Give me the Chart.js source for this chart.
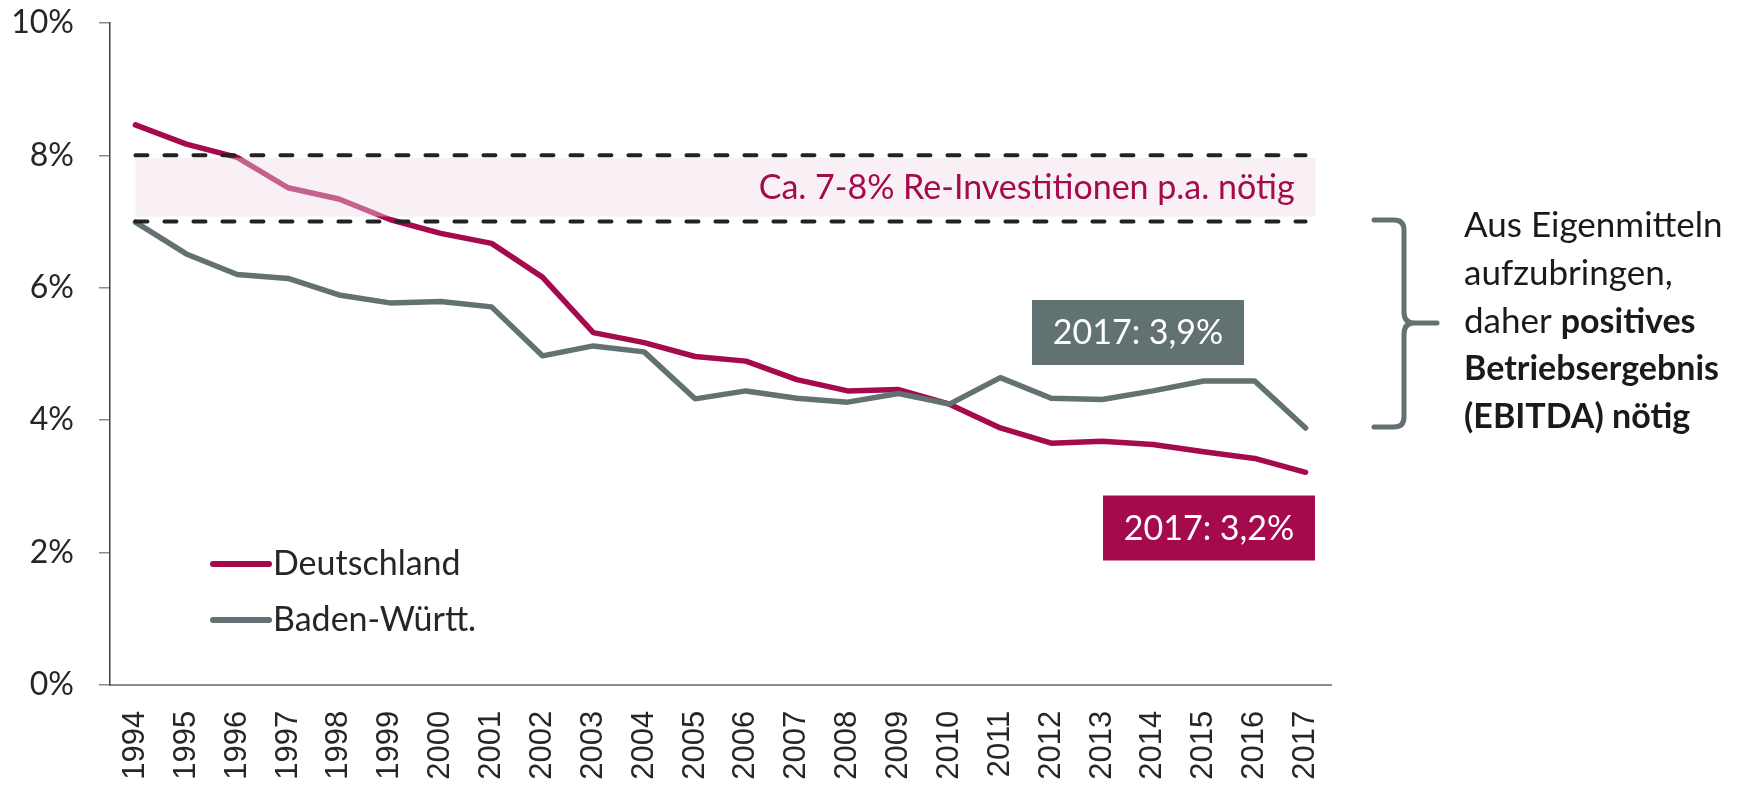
<!DOCTYPE html>
<html>
<head>
<meta charset="utf-8">
<script src="https://cdn.jsdelivr.net/npm/chart.js@4.4.1/dist/chart.umd.min.js"></script>
<style>
  body { margin: 0; background: #fff; }
  #wrap { width: 1740px; height: 786px; }
</style>
</head>
<body>
<div id="wrap"><canvas id="invChart" width="1740" height="786"></canvas></div>
<script>
const years = ['1994', '1995', '1996', '1997', '1998', '1999', '2000', '2001', '2002', '2003', '2004', '2005',
               '2006', '2007', '2008', '2009', '2010', '2011', '2012', '2013', '2014', '2015', '2016', '2017'];
const deutschland = [8.46, 8.17, 7.97, 7.51, 7.34, 7.03, 6.82, 6.67, 6.16, 5.32, 5.17, 4.96,
                     4.89, 4.61, 4.44, 4.46, 4.24, 3.88, 3.65, 3.68, 3.63, 3.52, 3.42, 3.21];
const badenWuertt = [6.99, 6.51, 6.20, 6.14, 5.89, 5.77, 5.79, 5.71, 4.97, 5.12, 5.03, 4.32,
                     4.44, 4.33, 4.27, 4.40, 4.24, 4.64, 4.33, 4.31, 4.44, 4.59, 4.59, 3.88];
const bandTop = 8;
const bandBottom = 7;
const yTicks = [0, 2, 4, 6, 8, 10];

const RED = '#a50a4c';
const GREY = '#627172';
const FONT = 'Lato, "Open Sans", sans-serif';

// band between 7% and 8%, drawn over the series but under the dashed lines
let bandDone = false;
const bandPlugin = {
    id: 'band',
    beforeDatasetsDraw() { bandDone = false; },
    beforeDatasetDraw(chart, args) {
        if (bandDone || !chart.data.datasets[args.index].isRef) return;
        bandDone = true;
        const x = chart.scales.x, y = chart.scales.y, c = chart.ctx;
        const x0 = x.getPixelForValue(0);
        const x1 = x.getPixelForValue(years.length - 1) + 10;
        const y0 = y.getPixelForValue(bandTop) + 2.5;
        const y1 = y.getPixelForValue(bandBottom) - 5;
        c.save();
        c.fillStyle = 'rgba(238, 220, 228, 0.42)';
        c.fillRect(x0, y0, x1 - x0, y1 - y0);
        c.restore();
    }
};

const notesPlugin = {
    id: 'notes',
    afterDraw(chart) {
        const c = chart.ctx, x = chart.scales.x, y = chart.scales.y, area = chart.chartArea;
        c.save();

        // band label
        c.font = '34px ' + FONT;
        c.fillStyle = RED;
        c.textAlign = 'right';
        c.textBaseline = 'middle';
        c.fillText('Ca. 7-8% Re-Investitionen p.a. nötig', x.getPixelForValue(years.length - 1) - 11,
                   (y.getPixelForValue(bandTop) + y.getPixelForValue(bandBottom)) / 2);

        // end value boxes
        const last = years.length - 1;
        const fmt = v => '2017: ' + v.toFixed(1).replace('.', ',') + '%';
        const boxes = [
            { text: fmt(badenWuertt[last]), color: GREY, cx: 1138, cy: 332.5 },
            { text: fmt(deutschland[last]), color: RED, cx: 1209, cy: 528 }
        ];
        boxes.forEach(b => {
            c.fillStyle = b.color;
            c.fillRect(b.cx - 106, b.cy - 32.5, 212, 65);
            c.fillStyle = '#fff';
            c.textAlign = 'center';
            c.font = '34px ' + FONT;
            c.fillText(b.text, b.cx, b.cy + 1);
        });

        // legend inside plot
        const lx = area.left + 103;
        [[0, 564], [1, 620]].forEach(([i, ly]) => {
            const ds = chart.data.datasets[i];
            c.strokeStyle = ds.borderColor;
            c.lineWidth = 6;
            c.lineCap = 'round';
            c.beginPath();
            c.moveTo(lx, ly);
            c.lineTo(lx + 56, ly);
            c.stroke();
            c.fillStyle = '#262626';
            c.textAlign = 'left';
            c.font = '34px ' + FONT;
            c.fillText(ds.label, lx + 60, ly);
        });

        // brace
        c.strokeStyle = GREY;
        c.lineWidth = 5;
        c.lineCap = 'round';
        c.lineJoin = 'round';
        c.beginPath();
        c.moveTo(1374, 220);
        c.lineTo(1394, 220);
        c.quadraticCurveTo(1404, 220, 1404, 230);
        c.lineTo(1404, 312);
        c.quadraticCurveTo(1404, 323, 1414, 323);
        c.lineTo(1437, 323);
        c.moveTo(1414, 323);
        c.quadraticCurveTo(1404, 323, 1404, 334);
        c.lineTo(1404, 417);
        c.quadraticCurveTo(1404, 427, 1394, 427);
        c.lineTo(1374, 427);
        c.stroke();

        // side note
        const lines = [
            [['Aus Eigenmitteln', false]],
            [['aufzubringen,', false]],
            [['daher ', false], ['positives', true]],
            [['Betriebsergebnis', true]],
            [['(EBITDA) nötig', true]]
        ];
        c.fillStyle = '#1a1a1a';
        c.textAlign = 'left';
        c.textBaseline = 'alphabetic';
        lines.forEach((segs, i) => {
            let tx = 1464;
            const ty = 237 + i * 47.8;
            segs.forEach(([t, bold]) => {
                c.font = (bold ? 'bold 34px ' : '35px ') + FONT;
                c.fillText(t, tx, ty);
                tx += c.measureText(t).width;
            });
        });
        c.restore();
    }
};

const refLine = v => ({
    label: '',
    isRef: true,
    data: years.map(() => v),
    borderColor: '#222',
    borderWidth: 4,
    borderDash: [12, 17],
    borderCapStyle: 'round',
    pointRadius: 0,
    order: 0
});

new Chart(document.getElementById('invChart'), {
    type: 'line',
    data: {
        labels: years,
        datasets: [
            {
                label: 'Deutschland',
                data: deutschland,
                borderColor: RED,
                borderWidth: 5.5,
                borderCapStyle: 'round',
                borderJoinStyle: 'round',
                pointRadius: 0,
                order: 2
            },
            {
                label: 'Baden-Württ.',
                data: badenWuertt,
                borderColor: GREY,
                borderWidth: 5.5,
                borderCapStyle: 'round',
                borderJoinStyle: 'round',
                pointRadius: 0,
                order: 1
            },
            refLine(bandTop),
            refLine(bandBottom)
        ]
    },
    options: {
        responsive: false,
        animation: false,
        devicePixelRatio: 1,
        layout: { autoPadding: false, padding: { top: 23, right: 409, left: 0, bottom: 0 } },
        plugins: {
            legend: { display: false },
            tooltip: { enabled: false }
        },
        scales: {
            x: {
                offset: true,
                grid: { display: false, drawTicks: false },
                border: { display: true, color: '#8c8c8c', width: 2 },
                ticks: {
                    autoSkip: false,
                    maxRotation: 90,
                    minRotation: 90,
                    padding: 26,
                    color: '#262626',
                    font: { family: '"Liberation Sans", Arial, sans-serif', size: 31 }
                },
                afterFit: s => {
                    s.height = 101.3;
                    s.paddingLeft = 0; s.paddingRight = 0;
                }
            },
            y: {
                min: 0,
                max: 10,
                afterBuildTicks: s => { s.ticks = yTicks.map(v => ({ value: v })); },
                grid: { drawOnChartArea: false, drawTicks: true, tickLength: 11, color: '#8c8c8c', lineWidth: 1.5 },
                border: { display: true, color: '#404040', width: 1.5 },
                ticks: {
                    padding: 25,
                    color: '#262626',
                    font: { family: FONT, size: 32 },
                    callback: v => v + '%'
                },
                afterFit: s => {
                    s.width = 110;
                    s.paddingTop = 0; s.paddingBottom = 0;
                }
            }
        }
    },
    plugins: [bandPlugin, notesPlugin]
});
</script>
</body>
</html>
